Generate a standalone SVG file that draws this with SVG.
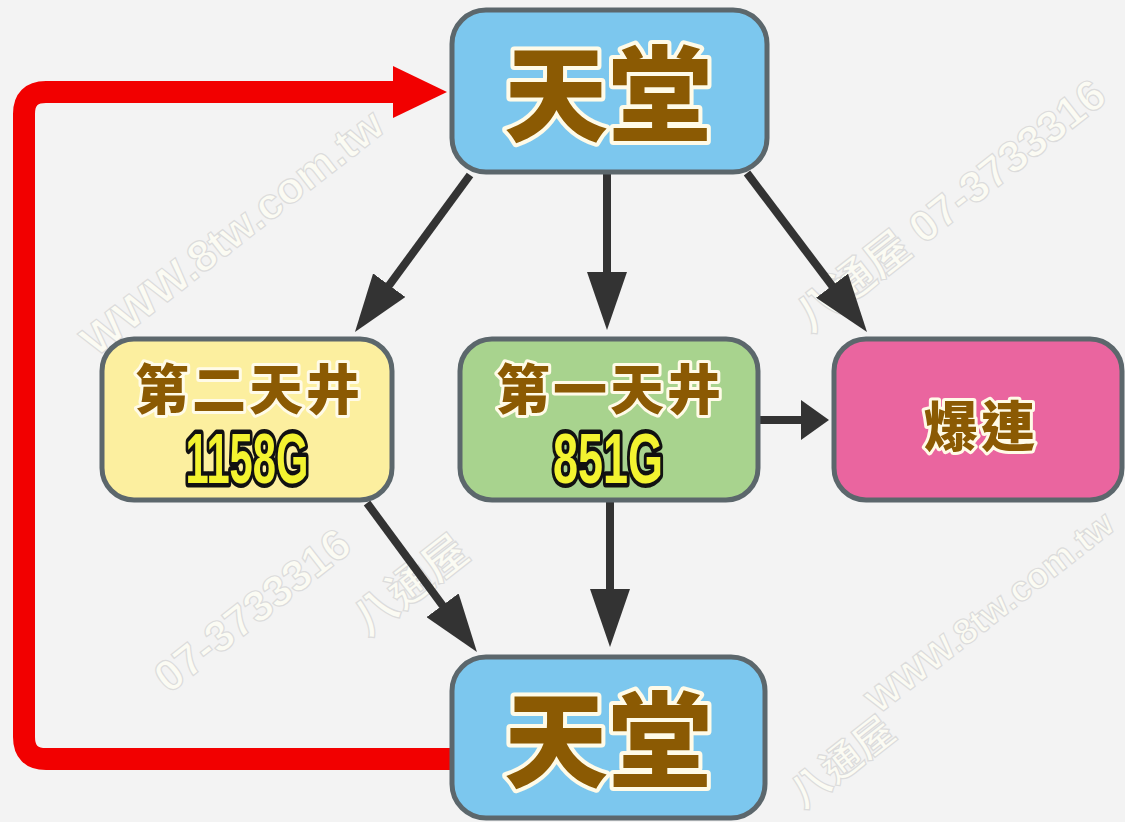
<svg xmlns="http://www.w3.org/2000/svg" width="1125" height="822" viewBox="0 0 1125 822">
<style>
.wm{font-family:"Liberation Sans Narrow","Liberation Sans","Noto Sans CJK TC",sans-serif;font-weight:bold;font-size:44px;fill:#fbfbf3;stroke:#dcdcdc;stroke-width:1.2;text-anchor:middle;dominant-baseline:central}
.box{stroke:#5c676c;stroke-width:5}
.cjk{font-family:"Noto Sans CJK TC","Noto Sans CJK SC",sans-serif;font-weight:900;fill:#8b5a03;stroke:#fffbe8;stroke-linejoin:round;paint-order:stroke;text-anchor:middle;dominant-baseline:central}
.big{font-size:104px;stroke-width:8}
.mid{font-size:54px;stroke-width:6;letter-spacing:3px}
.num{font-family:"Liberation Sans Narrow","Liberation Sans",sans-serif;font-weight:bold;font-size:70px;fill:#f3f330;stroke:#111;stroke-width:9;stroke-linejoin:round;paint-order:stroke;text-anchor:middle}
.arr{stroke:#333;stroke-width:8;fill:none}
.red{stroke:#f20000;stroke-width:22;fill:none;stroke-linejoin:round}
</style>
<defs>
<marker id="ah" markerUnits="userSpaceOnUse" viewBox="0 0 58 40" markerWidth="58" markerHeight="40" refX="18" refY="20" orient="auto"><path d="M0,0 L58,20 L0,40 Z" fill="#333"/></marker>
<marker id="ahs" markerUnits="userSpaceOnUse" viewBox="0 0 28 40" markerWidth="28" markerHeight="40" refX="12" refY="20" orient="auto"><path d="M0,0 L28,20 L0,40 Z" fill="#333"/></marker>
<marker id="ahr" markerUnits="userSpaceOnUse" viewBox="0 0 54 52" markerWidth="54" markerHeight="52" refX="3" refY="26" orient="auto"><path d="M0,0 L54,26 L0,52 Z" fill="#f20000"/></marker>
</defs>
<rect width="1125" height="822" fill="#f3f3f3"/>
<g id="watermark">
<text class="wm" transform="translate(232 232) rotate(-38)">WWW.8tw.com.tw</text>
<text class="wm" transform="translate(950 205) rotate(-38)">八通屋 07-3733316</text>
<text class="wm" transform="translate(252 610) rotate(-38)">07-3733316</text>
<text class="wm" style="font-size:36px" transform="translate(990 612) rotate(-38)">WWW.8tw.com.tw</text>
<text class="wm" transform="translate(410 585) rotate(-38)">八通屋</text>
<text class="wm" style="font-size:40px" transform="translate(842 762) rotate(-38)">八通屋</text>
</g>
<g id="connectors">
<path class="red" d="M455,759 H46 Q24,759 24,737 V114 Q24,92 46,92 H396" marker-end="url(#ahr)"/>
<line class="arr" x1="470" y1="175" x2="378.6" y2="299.7" marker-end="url(#ah)"/>
<line class="arr" x1="607" y1="172" x2="607" y2="290" marker-end="url(#ah)"/>
<line class="arr" x1="747" y1="173" x2="842.9" y2="300.1" marker-end="url(#ah)"/>
<line class="arr" x1="758" y1="420" x2="813" y2="420" marker-end="url(#ahs)"/>
<line class="arr" x1="367" y1="503" x2="453.2" y2="619.8" marker-end="url(#ah)"/>
<line class="arr" x1="610" y1="500" x2="610" y2="607" marker-end="url(#ah)"/>
</g>
<g id="heaven-top">
<rect class="box" x="452" y="10" width="315" height="162" rx="34" fill="#7cc7ee"/>
<text class="cjk big" x="608" y="88">天堂</text>
</g>
<g id="second-ceiling">
<rect class="box" x="102" y="339" width="290" height="161" rx="32" fill="#fcef9f"/>
<text class="cjk mid" x="249" y="386">第二天井</text>
<text class="num" x="247" y="483" textLength="123" lengthAdjust="spacingAndGlyphs">1158G</text>
</g>
<g id="first-ceiling">
<rect class="box" x="460" y="339" width="298" height="161" rx="32" fill="#a8d38e"/>
<text class="cjk mid" x="610" y="386">第一天井</text>
<text class="num" x="608" y="483" textLength="110" lengthAdjust="spacingAndGlyphs">851G</text>
</g>
<g id="bakuren">
<rect class="box" x="834" y="339" width="288" height="161" rx="32" fill="#ea659f"/>
<text class="cjk mid" x="981" y="423">爆連</text>
</g>
<g id="heaven-bottom">
<rect class="box" x="452" y="657" width="313" height="161" rx="34" fill="#7cc7ee"/>
<text class="cjk big" x="608" y="734">天堂</text>
</g>
</svg>
